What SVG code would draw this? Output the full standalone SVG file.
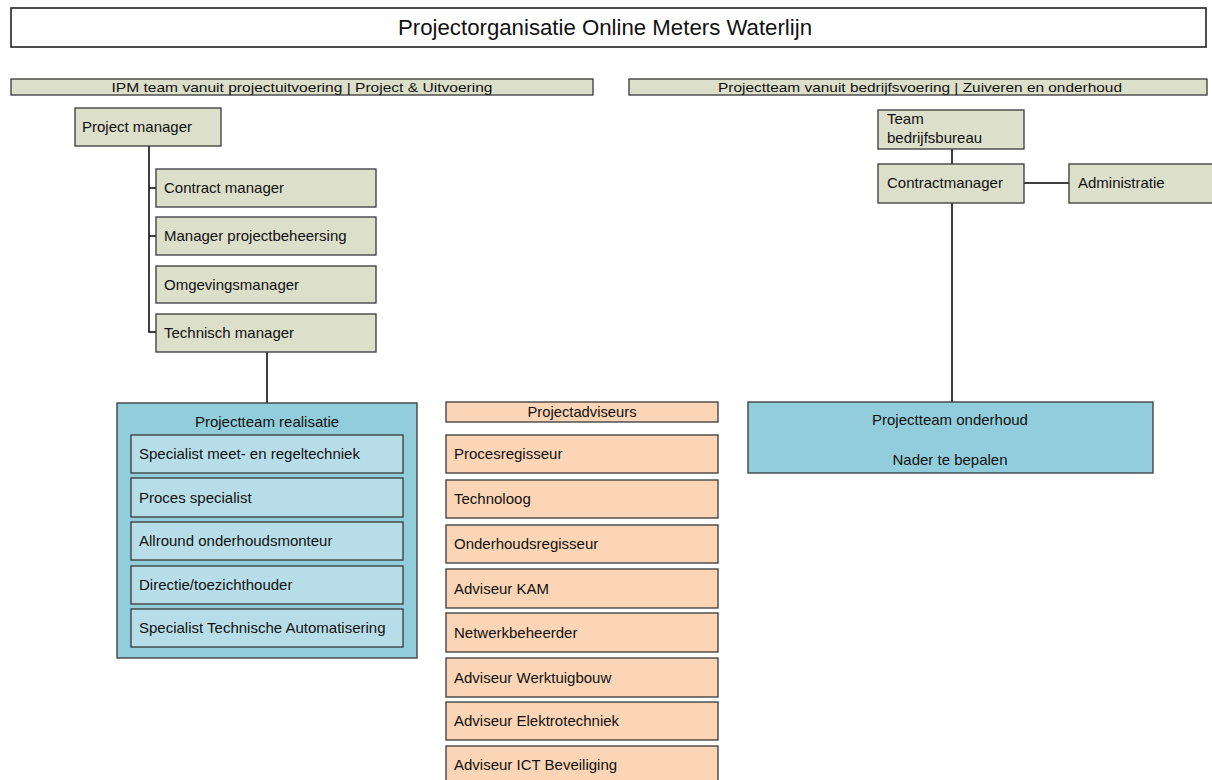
<svg xmlns="http://www.w3.org/2000/svg" width="1212" height="780" viewBox="0 0 1212 780">
<style>
text{font-family:"Liberation Sans",Arial,sans-serif;fill:#111;}
.t{font-size:15px;}
.h{font-size:13.5px;}
.g{fill:#dcdfca;stroke:#383838;stroke-width:1.3;}
.b{fill:#92cddc;stroke:#383838;stroke-width:1.3;}
.lb{fill:#b7dee8;stroke:#383838;stroke-width:1.3;}
.o{fill:#fbd5b5;stroke:#383838;stroke-width:1.3;}
.c{text-anchor:middle;}
.ln{stroke:#000;stroke-width:1.5;fill:none;}
</style>
<rect width="1212" height="780" fill="#fff"/>
<g id="title">
<rect x="11" y="8" width="1195" height="39" fill="#fff" stroke="#222" stroke-width="1.6"/>
<text x="605" y="35" class="c" font-size="22" textLength="414" lengthAdjust="spacingAndGlyphs">Projectorganisatie Online Meters Waterlijn</text>
</g>
<g id="header-left">
<rect x="11" y="79" width="582" height="16" class="g"/>
<text x="302" y="92" class="c h" textLength="381" lengthAdjust="spacingAndGlyphs">IPM team vanuit projectuitvoering | Project &amp; Uitvoering</text>
</g>
<g id="header-right">
<rect x="629" y="79" width="578" height="16" class="g"/>
<text x="920" y="92" class="c h" textLength="404" lengthAdjust="spacingAndGlyphs">Projectteam vanuit bedrijfsvoering | Zuiveren en onderhoud</text>
</g>
<g id="connectors">
<path class="ln" d="M149 146 V332 H156 M149 188 H156 M149 236 H156"/>
<path class="ln" d="M267 352 V403"/>
<path class="ln" d="M952 149 V164 M952 203 V402 M1024 183 H1069"/>
</g>
<g id="project-manager"><rect x="75" y="108" width="146" height="38" class="g"/><text x="82" y="132" class="t">Project manager</text></g>
<g id="contract-manager"><rect x="156" y="169" width="220" height="38" class="g"/><text x="164" y="193" class="t">Contract manager</text></g>
<g id="manager-projectbeheersing"><rect x="156" y="217" width="220" height="38" class="g"/><text x="164" y="241" class="t">Manager projectbeheersing</text></g>
<g id="omgevingsmanager"><rect x="156" y="266" width="220" height="37" class="g"/><text x="164" y="290" class="t">Omgevingsmanager</text></g>
<g id="technisch-manager"><rect x="156" y="314" width="220" height="38" class="g"/><text x="164" y="338" class="t">Technisch manager</text></g>
<g id="projectteam-realisatie">
<rect x="117" y="403" width="300" height="255" class="b"/>
<text x="267" y="427" class="c t">Projectteam realisatie</text>
<rect x="131" y="435" width="272" height="38" class="lb"/><text x="139" y="459" class="t">Specialist meet- en regeltechniek</text>
<rect x="131" y="478" width="272" height="39" class="lb"/><text x="139" y="503" class="t">Proces specialist</text>
<rect x="131" y="522" width="272" height="38" class="lb"/><text x="139" y="546" class="t">Allround onderhoudsmonteur</text>
<rect x="131" y="566" width="272" height="38" class="lb"/><text x="139" y="590" class="t">Directie/toezichthouder</text>
<rect x="131" y="609" width="272" height="38" class="lb"/><text x="139" y="633" class="t">Specialist Technische Automatisering</text>
</g>
<g id="projectadviseurs">
<rect x="446" y="402" width="272" height="20" class="o"/>
<text x="582" y="417" class="c" font-size="14.5" textLength="109" lengthAdjust="spacingAndGlyphs">Projectadviseurs</text>
</g>
<g id="procesregisseur"><rect x="446" y="435" width="272" height="38" class="o"/><text x="454" y="459" class="t">Procesregisseur</text></g>
<g id="technoloog"><rect x="446" y="480" width="272" height="38" class="o"/><text x="454" y="504" class="t">Technoloog</text></g>
<g id="onderhoudsregisseur"><rect x="446" y="525" width="272" height="38" class="o"/><text x="454" y="549" class="t">Onderhoudsregisseur</text></g>
<g id="adviseur-kam"><rect x="446" y="569" width="272" height="39" class="o"/><text x="454" y="594" class="t">Adviseur KAM</text></g>
<g id="netwerkbeheerder"><rect x="446" y="613" width="272" height="39" class="o"/><text x="454" y="638" class="t">Netwerkbeheerder</text></g>
<g id="adviseur-werktuigbouw"><rect x="446" y="658" width="272" height="39" class="o"/><text x="454" y="683" class="t">Adviseur Werktuigbouw</text></g>
<g id="adviseur-elektrotechniek"><rect x="446" y="702" width="272" height="38" class="o"/><text x="454" y="726" class="t">Adviseur Elektrotechniek</text></g>
<g id="adviseur-ict"><rect x="446" y="746" width="272" height="40" class="o"/><text x="454" y="770" class="t">Adviseur ICT Beveiliging</text></g>
<g id="team-bedrijfsbureau"><rect x="878" y="110" width="146" height="39" class="g"/><text x="887" y="124" class="t">Team</text><text x="887" y="143" class="t">bedrijfsbureau</text></g>
<g id="contractmanager"><rect x="878" y="164" width="146" height="39" class="g"/><text x="887" y="188" class="t">Contractmanager</text></g>
<g id="administratie"><rect x="1069" y="164" width="150" height="39" class="g"/><text x="1078" y="188" class="t">Administratie</text></g>
<g id="projectteam-onderhoud">
<rect x="748" y="402" width="405" height="71" class="b"/>
<text x="950" y="425" class="c t">Projectteam onderhoud</text>
<text x="950" y="465" class="c t">Nader te bepalen</text>
</g>
</svg>
